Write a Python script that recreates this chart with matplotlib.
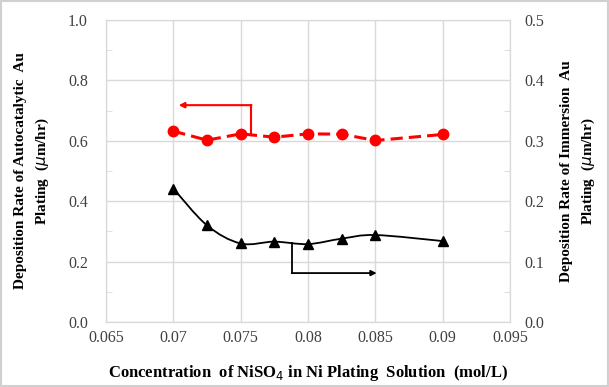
import numpy as np
import matplotlib.pyplot as plt
from matplotlib.path import Path
from matplotlib.patches import PathPatch

plt.rcParams['font.family'] = ['Liberation Serif', 'DejaVu Serif']

conc = [0.07, 0.0725, 0.075, 0.0775, 0.08, 0.0825, 0.085, 0.09]
autocat_rate = [0.632, 0.602, 0.623, 0.612, 0.623, 0.622, 0.601, 0.621]
immersion_rate = [0.221, 0.160, 0.130, 0.133, 0.129, 0.138, 0.144, 0.134]


def smooth_path(x, y, tension=0.5):
    # Catmull-Rom style bezier segments through the points (Excel "smoothed line")
    x = np.asarray(x)
    y = np.asarray(y)
    verts = [(x[0], y[0])]
    codes = [Path.MOVETO]
    n = len(x)
    for i in range(n - 1):
        p0 = (x[i - 1], y[i - 1]) if i > 0 else (x[i], y[i])
        p1 = (x[i], y[i])
        p2 = (x[i + 1], y[i + 1])
        p3 = (x[i + 2], y[i + 2]) if i + 2 < n else p2
        c1 = (p1[0] + (p2[0] - p0[0]) * tension / 3, p1[1] + (p2[1] - p0[1]) * tension / 3)
        c2 = (p2[0] - (p3[0] - p1[0]) * tension / 3, p2[1] - (p3[1] - p1[1]) * tension / 3)
        verts += [c1, c2, p2]
        codes += [Path.CURVE4] * 3
    return Path(verts, codes)


fig = plt.figure(figsize=(6.09, 3.87), dpi=100)
ax = fig.add_axes([106 / 609, 1 - 322 / 387, 404 / 609, 302 / 387])
ax2 = ax.twinx()

grid_c = '#d9d9d9'
ax.set_xlim(0.065, 0.095)
ax.set_ylim(0, 1.0)
ax2.set_ylim(0, 0.5)
ax.set_xticks([0.065, 0.07, 0.075, 0.08, 0.085, 0.09, 0.095])
ax.set_xticklabels(['0.065', '0.07', '0.075', '0.08', '0.085', '0.09', '0.095'])
ax.set_yticks(np.arange(0, 1.01, 0.2))
ax.set_yticklabels([f'{v:.1f}' for v in np.arange(0, 1.01, 0.2)])
ax.set_yticks(np.arange(0.1, 1.0, 0.2), minor=True)
ax2.set_yticks(np.arange(0, 0.51, 0.1))
ax2.set_yticklabels([f'{v:.1f}' for v in np.arange(0, 0.51, 0.1)])
ax2.set_yticks(np.arange(0.05, 0.5, 0.1), minor=True)

ax.grid(True, which='major', color=grid_c, linewidth=1)
ax.set_axisbelow(True)
for a in (ax, ax2):
    for s in a.spines.values():
        s.set_color(grid_c)
    a.tick_params(which='major', length=0, labelsize=11.5, colors='#404040')
    a.tick_params(which='minor', length=4, color=grid_c, direction='in')
ax.tick_params(axis='x', pad=6)
ax.tick_params(axis='y', pad=13)
ax2.tick_params(axis='y', pad=10)

# autocatalytic series, left axis
ax.plot(conc, autocat_rate, color='#ff0000', linestyle=(0, (4, 2)), linewidth=2.2,
        marker='o', markersize=7.5, zorder=3)

# immersion series, right axis
ax2.add_patch(PathPatch(smooth_path(conc, immersion_rate), facecolor='none',
                        edgecolor='black', linewidth=1.3))
ax2.plot(conc, immersion_rate, linestyle='none', marker='^', color='black',
         markersize=7.5, zorder=3)

# axis indicator arrows
ax.plot([0.0758, 0.0758], [0.622, 0.718], color='#ff0000', linewidth=1.5)
ax.annotate('', xy=(0.0704, 0.718), xytext=(0.0758, 0.718),
            arrowprops=dict(arrowstyle='-|>', color='#ff0000', lw=1.5,
                            mutation_scale=8, shrinkA=0, shrinkB=0))
ax2.plot([0.0788, 0.0788], [0.131, 0.081], color='black', linewidth=1.3)
ax2.annotate('', xy=(0.0851, 0.081), xytext=(0.0788, 0.081),
             arrowprops=dict(arrowstyle='-|>', color='black', lw=1.3,
                             mutation_scale=8, shrinkA=0, shrinkB=0))

ax.set_xlabel('Concentration  of NiSO$_4$ in Ni Plating  Solution  (mol/L)',
              labelpad=12, fontsize=12, fontweight='bold')
ax.set_ylabel('Deposition Rate of Autocatalytic  Au\nPlating  ($\\mu$m/hr)',
              labelpad=12, linespacing=1.55, fontsize=11, fontweight='bold')
ax2.set_ylabel('Deposition Rate of Immersion  Au\nPlating  ($\\mu$m/hr)',
               labelpad=12, linespacing=1.55, fontsize=11, fontweight='bold')

# thin frame round the whole figure
fig.patches.append(plt.Rectangle((0.002, 0.003), 0.996, 0.994, transform=fig.transFigure,
                                 fill=False, edgecolor='#d0d0d0', linewidth=1.5))

fig.savefig('out.png', dpi=100)
